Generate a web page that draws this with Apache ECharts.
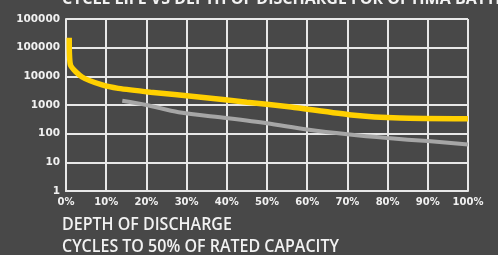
<!DOCTYPE html>
<html>
<head>
<meta charset="utf-8">
<script src="https://cdn.jsdelivr.net/npm/echarts@6/dist/echarts.min.js"></script>
<style>
  html, body { margin: 0; padding: 0; background: #484848; }
  #main { width: 498px; height: 255px; }
</style>
</head>
<body>
<div id="main"></div>
<script>
// depth of discharge (%) and cycles
var yellowDod = [0.8, 1.1, 4, 9, 13, 21, 33, 45, 56, 71, 83, 100];
var yellowCycles = [220000, 25000, 9500, 5000, 3800, 2800, 1900, 1250, 850, 450, 350, 330];
var grayDod = [14, 20, 28, 40, 50, 60, 70, 80, 90, 100];
var grayCycles = [1400, 1000, 560, 350, 230, 140, 95, 70, 55, 42];
// tick labels as printed (top one is printed as 100000 too)
var yTickLabels = ['1', '10', '100', '1000', '10000', '100000', '100000'];

function pairs(xs, ys) {
  var out = [];
  for (var i = 0; i < xs.length; i++) out.push([xs[i], ys[i]]);
  return out;
}

var chart = echarts.init(document.getElementById('main'));

var option = {
  backgroundColor: '#484848',
  animation: false,
  grid: { left: 66, right: 30, top: 19, bottom: 64 },
  xAxis: {
    type: 'value',
    min: 0, max: 100, interval: 10,
    axisLine: { show: true, lineStyle: { color: '#e8e8e8', width: 2 } },
    axisTick: { show: false },
    splitLine: { show: true, lineStyle: { color: '#e8e8e8', width: 2 } },
    axisLabel: {
      color: '#f0f0f0', fontFamily: 'DejaVu Sans', fontWeight: 'bold', fontSize: 10,
      margin: 6,
      formatter: function (v) { return v + '%'; }
    }
  },
  yAxis: {
    type: 'log',
    logBase: 10,
    min: 1, max: 1000000,
    axisLine: { show: true, lineStyle: { color: '#e8e8e8', width: 2 } },
    axisTick: { show: false },
    splitLine: { show: true, lineStyle: { color: '#e8e8e8', width: 2 } },
    axisLabel: {
      color: '#f0f0f0', fontFamily: 'DejaVu Sans', fontWeight: 'bold', fontSize: 10.5,
      margin: 6,
      formatter: function (v) {
        var i = Math.round(Math.log10(v));
        return yTickLabels[i];
      }
    }
  },
  graphic: [
    {
      type: 'text', left: 62, top: -9,
      style: {
        text: 'CYCLE LIFE VS DEPTH OF DISCHARGE FOR OPTIMA BATTERIES',
        fill: '#f2f2f2', font: 'bold 16px "Open Sans"'
      }
    },
    {
      type: 'text', left: 62, top: 216, scaleY: 1.12,
      style: { text: 'DEPTH OF DISCHARGE', fill: '#f2f2f2', font: '600 16px "Open Sans"' }
    },
    {
      type: 'text', left: 62, top: 238, scaleY: 1.12,
      style: { text: 'CYCLES TO 50% OF RATED CAPACITY', fill: '#f2f2f2', font: '600 16px "Open Sans"' }
    }
  ],
  series: [
    {
      name: 'gray',
      type: 'line',
      data: pairs(grayDod, grayCycles),
      smooth: 0.3,
      symbol: 'none',
      lineStyle: { color: '#a6a6a6', width: 4 }
    },
    {
      name: 'yellow',
      type: 'line',
      data: pairs(yellowDod, yellowCycles),
      smooth: 0.2,
      symbol: 'none',
      lineStyle: { color: '#ffd000', width: 5.5 }
    }
  ]
};

chart.setOption(option);
</script>
</body>
</html>
